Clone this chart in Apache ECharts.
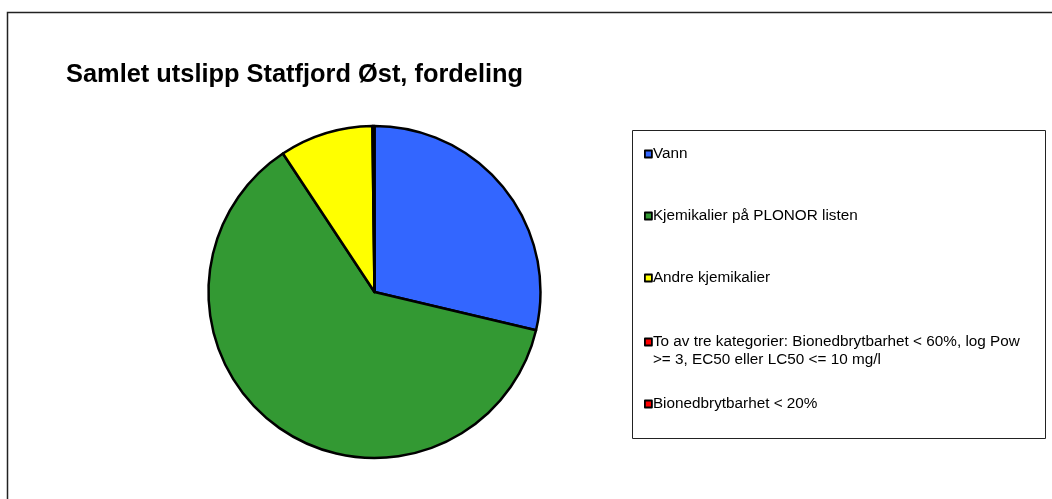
<!DOCTYPE html>
<html>
<head>
<meta charset="utf-8">
<script src="https://cdn.jsdelivr.net/npm/echarts@6/dist/echarts.min.js"></script>
<style>
html,body{margin:0;padding:0;background:#fff;}
#c{width:1052px;height:499px;}
</style>
</head>
<body>
<div id="c"></div>
<script>
const titleText = 'Samlet utslipp Statfjord Øst, fordeling';
const categories = [
  'Vann',
  'Kjemikalier på PLONOR listen',
  'Andre kjemikalier',
  'To av tre kategorier: Bionedbrytbarhet < 60%, log Pow >= 3, EC50 eller LC50 <= 10 mg/l',
  'Bionedbrytbarhet < 20%'
];
const values = [28.7, 62.0, 9.1, 0.1, 0.1];
const palette = ['#3366FF', '#339933', '#FFFF00', '#FF0000', '#FF0000'];

const FONT = '"Liberation Sans", Arial, sans-serif';
const chart = echarts.init(document.getElementById('c'), null, {renderer: 'canvas'});

const legendTops = [145, 207, 269, 315, 395];
const legends = categories.map((name, i) => {
  const twoLine = i === 3;
  return {
    data: [name],
    left: 644,
    top: legendTops[i],
    padding: 0,
    orient: 'vertical',
    itemWidth: 7,
    itemHeight: 7,
    icon: 'rect',
    selectedMode: false,
    itemStyle: {borderColor: '#000', borderWidth: 1.8},
    formatter: twoLine ? function (n) {
      return '\nTo av tre kategorier: Bionedbrytbarhet < 60%, log Pow\n>= 3, EC50 eller LC50 <= 10 mg/l';
    } : undefined,
    textStyle: {
      fontFamily: FONT,
      fontSize: 15.3,
      color: '#000',
      lineHeight: 18,
      padding: [0, 0, 0, -4]
    }
  };
});

chart.setOption({
  animation: false,
  backgroundColor: '#fff',
  title: {
    text: titleText,
    left: 61,
    top: 57,
    textStyle: {fontFamily: FONT, fontSize: 25.4, fontWeight: 'bold', color: '#000'}
  },
  graphic: [
    {type: 'rect', shape: {x: 7.5, y: 12.5, width: 1100, height: 600},
     style: {fill: 'none', stroke: '#222', lineWidth: 1.5}, silent: true},
    {type: 'rect', shape: {x: 632.5, y: 130.5, width: 413, height: 308},
     style: {fill: 'none', stroke: '#222', lineWidth: 1}, silent: true}
  ],
  legend: legends,
  series: [{
    type: 'pie',
    center: [374.5, 292],
    radius: 166,
    startAngle: 90,
    clockwise: true,
    label: {show: false},
    labelLine: {show: false},
    silent: true,
    itemStyle: {borderColor: '#000', borderWidth: 2.5},
    data: categories.map((n, i) => ({name: n, value: values[i], itemStyle: {color: palette[i]}}))
  }]
});
</script>
</body>
</html>
